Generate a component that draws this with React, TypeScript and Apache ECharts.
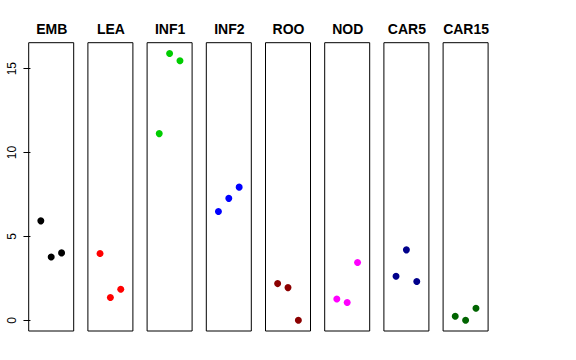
import React, { useEffect, useRef } from "react";
import * as echarts from "echarts";

const panels = ["EMB", "LEA", "INF1", "INF2", "ROO", "NOD", "CAR5", "CAR15"];
const colors = ["#000000", "#FF0000", "#00CD00", "#0000FF", "#8B0000", "#FF00FF", "#00008B", "#006400"];
const values = [
  [5.93, 3.78, 4.02],
  [3.98, 1.36, 1.85],
  [11.13, 15.91, 15.47],
  [6.49, 7.27, 7.94],
  [2.19, 1.95, 0.0],
  [1.27, 1.06, 3.45],
  [2.63, 4.2, 2.31],
  [0.24, 0.0, 0.72],
];
const jitterX = [1, 2, 3];
const yTicks = [0, 5, 10, 15];

export default function App() {
  const ref = useRef<HTMLDivElement>(null);
  useEffect(() => {
    if (!ref.current) return;
    const chart = echarts.init(ref.current, null, { renderer: "svg" });
    const left0 = 28.7;
    const step = 59.2;
    const w = 45;
    const top = 42.7;
    const h = 288.3;
    const grids: any[] = [];
    const xAxes: any[] = [];
    const yAxes: any[] = [];
    const series: any[] = [];
    const graphics: any[] = [];
    panels.forEach((name, i) => {
      const l = left0 + step * i;
      grids.push({ left: l, top, width: w, height: h, show: true, borderColor: "#000", borderWidth: 1, backgroundColor: "transparent" });
      xAxes.push({ gridIndex: i, type: "value", min: -0.17, max: 4.17, show: false });
      yAxes.push({
        gridIndex: i,
        type: "value",
        min: -0.636,
        max: 16.55,
        show: i === 0,
        splitLine: { show: false },
        axisLine: { show: false },
        axisTick: { show: true, length: 7, lineStyle: { color: "#000" }, customValues: yTicks },
        axisLabel: {
          show: true,
          rotate: 90,
          margin: 11,
          color: "#000",
          fontSize: 12,
          fontFamily: "Liberation Sans, Arial, sans-serif",
          customValues: yTicks,
        },
      });
      series.push({
        type: "scatter",
        xAxisIndex: i,
        yAxisIndex: i,
        symbolSize: 7,
        itemStyle: { color: colors[i], opacity: 1 },
        data: values[i].map((v, j) => [jitterX[j], v]),
      });
      graphics.push({
        type: "text",
        x: l + w / 2 + 0.5,
        y: 29.3,
        style: {
          text: name,
          textAlign: "center",
          textVerticalAlign: "middle",
          fontSize: 14,
          fontWeight: "bold",
          fill: "#000",
          fontFamily: "Liberation Sans, Arial, sans-serif",
        },
      });
    });
    chart.setOption({
      animation: false,
      backgroundColor: "#fff",
      grid: grids,
      xAxis: xAxes,
      yAxis: yAxes,
      series,
      graphic: graphics,
    });
    return () => chart.dispose();
  }, []);
  return <div ref={ref} style={{ width: 576, height: 360, position: "absolute", left: 0, top: 0 }} />;
}
